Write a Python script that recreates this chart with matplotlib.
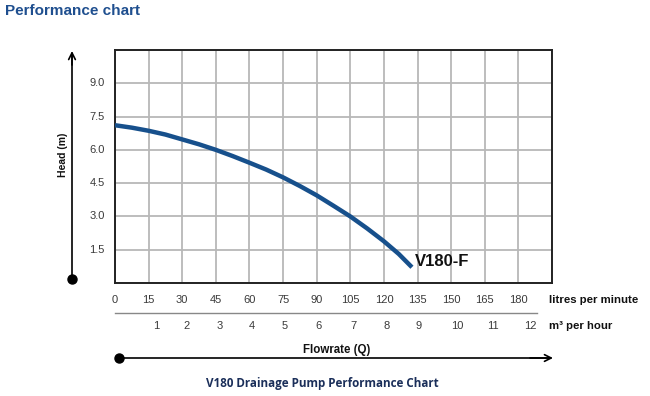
import matplotlib
matplotlib.use("Agg")
import matplotlib.pyplot as plt
from matplotlib import transforms

# ---- data ----
flow_lpm = [0, 7.5, 15, 22.5, 30, 37.5, 45, 52.5, 60, 67.5, 75, 82.5, 90, 97.5,
            105, 112.5, 120, 126.6, 132.5]
head_m = [7.11, 7.0, 6.86, 6.69, 6.47, 6.25, 6.0, 5.72, 5.42, 5.11, 4.76, 4.37,
          3.95, 3.48, 3.0, 2.46, 1.88, 1.31, 0.71]
lpm_ticks = [0, 15, 30, 45, 60, 75, 90, 105, 120, 135, 150, 165, 180]
m3_labels = ["1", "2", "3", "4", "5", "6", "7", "8", "9", "10", "11", "12"]
m3_label_pos = [18.3, 32.1, 46.9, 61.2, 75.9, 90.6, 106.3, 121.4, 135.3, 152.7, 168.8, 185.3]
head_ticks = [1.5, 3.0, 4.5, 6.0, 7.5, 9.0]
series_name = "V180-F"

W, H = 650, 396
fig = plt.figure(figsize=(W / 100, H / 100), dpi=100)
fig.patch.set_facecolor("white")

def fx(x):
    return x / W

def fy(y):
    return 1 - y / H

L, T, R, B = 115, 50, 552, 283
ax = fig.add_axes([fx(L), fy(B), (R - L) / W, (B - T) / H])
ax.set_xlim(0, 195)
ax.set_ylim(0, 10.5)
ax.set_xticks(range(0, 196, 15))
ax.set_yticks([i * 1.5 for i in range(8)])
ax.grid(True, color="#b8b8b8", linewidth=1.3)
ax.tick_params(length=0, labelbottom=False, labelleft=False)
for s in ax.spines.values():
    s.set_color("#222222")
    s.set_linewidth(1.4)

ax.plot(flow_lpm, head_m, color="#17508c", linewidth=3.2, solid_capstyle="butt",
        solid_joinstyle="round", zorder=3)
ax.text(flow_lpm[-1] + 1.5, head_m[-1] + 0.25, series_name, fontsize=12,
        fontweight="bold", color="#111111", family=["Liberation Sans", "DejaVu Sans"],
        va="center", ha="left")

tick_font = ["Liberation Sans Narrow", "Liberation Sans", "DejaVu Sans"]
for v in head_ticks:
    ax.text(-0.023, v, f"{v:.1f}", transform=ax.get_yaxis_transform(),
            ha="right", va="center", fontsize=8, color="#3a3a3a", family=tick_font)

bt = transforms.blended_transform_factory(ax.transData, fig.transFigure)
for v in lpm_ticks:
    ax.text(v, fy(300), str(v), transform=bt, ha="center", va="center",
            fontsize=8, color="#3a3a3a", family=tick_font, clip_on=False)
for p, lab in zip(m3_label_pos, m3_labels):
    ax.text(p, fy(326), lab, transform=bt, ha="center", va="center",
            fontsize=8, color="#3a3a3a", family=tick_font, clip_on=False)

bold = ["Liberation Sans", "DejaVu Sans"]
fig.text(fx(549), fy(300), "litres per minute", fontsize=8.2, fontweight="bold",
         family=bold, va="center", ha="left", color="#111111")
fig.text(fx(549), fy(326), "m³ per hour", fontsize=8.2, fontweight="bold",
         family=bold, va="center", ha="left", color="#111111")
fig.text(fx(337), fy(350), "Flowrate (Q)", fontsize=8.3, fontweight="bold",
         family=bold, va="center", ha="center", color="#111111")
fig.text(fx(63), fy(155), "Head (m)", fontsize=7.5, fontweight="bold",
         family=bold, va="center", ha="center", rotation=90, color="#111111")

# separator line between the two flow scales
fig.add_artist(plt.Line2D([fx(115), fx(537)], [fy(313), fy(313)],
                          color="#888888", linewidth=1.0))

# arrows
fig.add_artist(plt.Line2D([fx(72), fx(72)], [fy(279), fy(54)], color="black", linewidth=1.2))
ax.annotate("", xy=(72, H - 51), xytext=(72, H - 65), xycoords="figure pixels",
            textcoords="figure pixels",
            arrowprops=dict(arrowstyle="->", color="black", lw=1.2,
                            mutation_scale=12, shrinkA=0, shrinkB=0),
            annotation_clip=False)
fig.add_artist(plt.Line2D([fx(119), fx(550)], [fy(358), fy(358)], color="black", linewidth=1.2))
ax.annotate("", xy=(553, H - 358), xytext=(530, H - 358), xycoords="figure pixels",
            textcoords="figure pixels",
            arrowprops=dict(arrowstyle="->", color="black", lw=1.2,
                            mutation_scale=12, shrinkA=0, shrinkB=0),
            annotation_clip=False)
fig.add_artist(plt.Line2D([fx(72)], [fy(279)], marker="o", markersize=6.5,
                          color="black", linestyle="none"))
fig.add_artist(plt.Line2D([fx(119)], [fy(358)], marker="o", markersize=6.5,
                          color="black", linestyle="none"))

fig.text(fx(5), fy(11), "Performance chart", fontsize=11, fontweight="bold",
         color="#1f4f8f", family=["Liberation Sans Narrow", "Liberation Sans", "DejaVu Sans"],
         va="center", ha="left")
fig.text(fx(322), fy(383), "V180 Drainage Pump Performance Chart", fontsize=8.4,
         fontweight="bold", color="#1b2f5a", family=["Open Sans", "DejaVu Sans"],
         va="center", ha="center")

fig.savefig("out.png", dpi=100)
